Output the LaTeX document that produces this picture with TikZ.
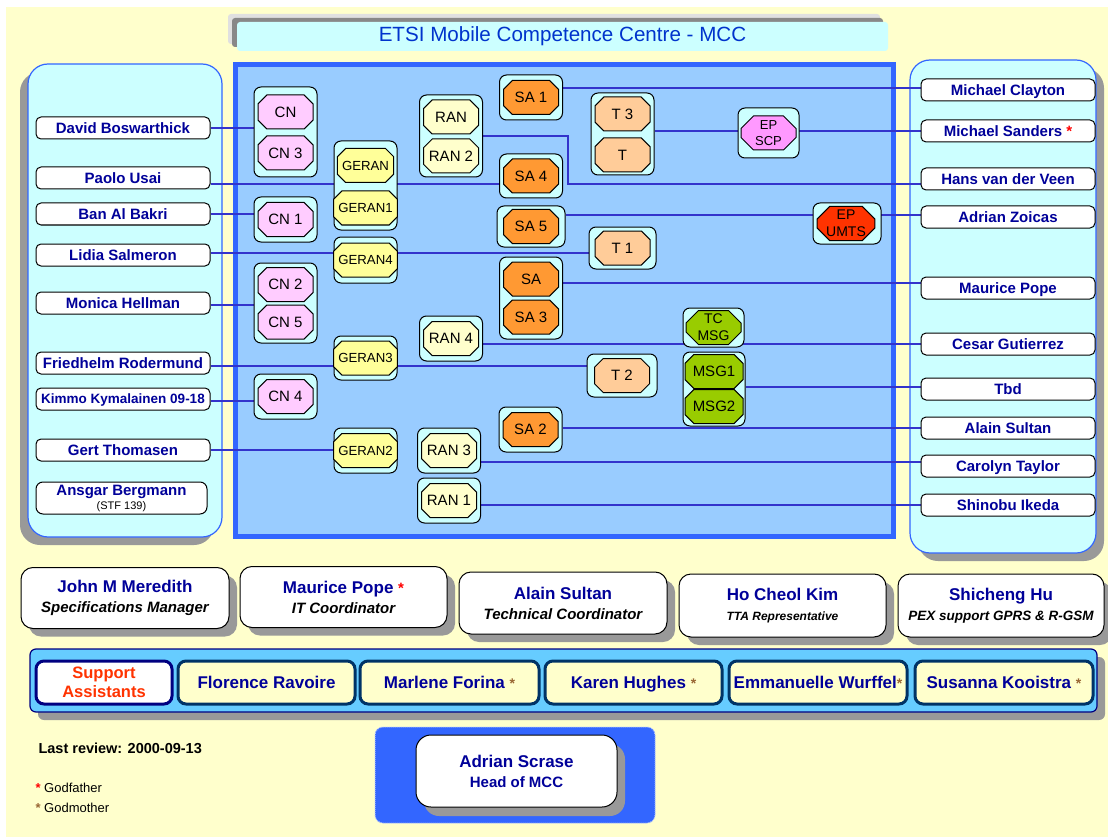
\documentclass[tikz,border=0pt]{standalone}
\usepackage{fontspec}
\setmainfont{Liberation Sans}
\usepackage{tikz}
\usetikzlibrary{calc,shapes.misc,shadows}
\usepackage{xcolor}
\pgfdeclarelayer{back}
\pgfdeclarelayer{links}
\pgfsetlayers{back,links,main}
\definecolor{paper}{HTML}{FFFFCC}
\definecolor{ice}{HTML}{CCFFFF}
\definecolor{royal}{HTML}{3366FF}
\definecolor{sky}{HTML}{99CCFF}
\definecolor{wire}{HTML}{3333CC}
\definecolor{namenavy}{HTML}{000099}
\definecolor{titleblue}{HTML}{0033CC}
\definecolor{shade}{HTML}{999999}
\definecolor{lightshade}{HTML}{E0E0E0}
\definecolor{darkshade}{HTML}{888888}
\definecolor{cnpink}{HTML}{FFCCFF}
\definecolor{geranyellow}{HTML}{FFFF99}
\definecolor{rancream}{HTML}{FFFFCC}
\definecolor{saorange}{HTML}{FF9933}
\definecolor{tpeach}{HTML}{FFCC99}
\definecolor{scpmagenta}{HTML}{FF99FF}
\definecolor{umtsred}{HTML}{FF3300}
\definecolor{msggreen}{HTML}{99CC00}
\definecolor{bandblue}{HTML}{66CCFF}
\definecolor{banddark}{HTML}{000080}
\definecolor{helperedge}{HTML}{003366}
\definecolor{helperred}{HTML}{FF3300}
\definecolor{godred}{HTML}{FF0000}
\definecolor{godbrown}{HTML}{996633}

\begin{document}
\begin{tikzpicture}[x=1pt, y=-1pt]
  \tikzstyle{name box}=[draw=black, line width=1pt, fill=white, rounded corners=5pt, minimum width=174pt, minimum height=22pt, inner sep=0pt, text height=11pt, text depth=0.5pt, text=namenavy, font=\bfseries\fontsize{15}{17}\selectfont]
  \tikzstyle{group box}=[draw=black, line width=1pt, fill=ice, rounded corners=7pt, minimum width=63pt, minimum height=45pt, inner sep=0pt]
  \tikzstyle{oct}=[chamfered rectangle, chamfered rectangle xsep=9pt, draw=black, line width=1pt, minimum width=55pt, minimum height=34pt, inner sep=0pt, font=\fontsize{15}{17}\selectfont]
  \tikzstyle{small oct}=[oct, font=\fontsize{13.2}{15}\selectfont]
  \tikzstyle{role box}=[draw=black, line width=1pt, fill=white, rounded corners=12pt, minimum width=207pt, minimum height=61pt, inner sep=0pt, align=center, font=\bfseries\fontsize{15}{20}\selectfont, drop shadow={shadow xshift=8pt, shadow yshift=-8pt, fill=shade, opacity=1}]
  \tikzstyle{helper box}=[draw=helperedge, line width=3pt, fill=paper, rounded corners=8pt, minimum width=177pt, minimum height=43pt, inner sep=0pt, text height=12.5pt, text depth=0.5pt, text=namenavy, font=\bfseries\fontsize{17}{19}\selectfont]
  \tikzstyle{link}=[draw=wire, line width=2.4pt]
  \tikzstyle{thin link}=[draw=wire, line width=1.5pt]
  \useasboundingbox (0,0) rectangle (1108,837);

  % backdrop and panels
  \begin{pgfonlayer}{back}
    \fill[white] (0,0) rectangle (1108,837);
    \fill[paper] (6,7) rectangle (1108,837);
    \fill[lightshade, rounded corners=3pt] (228,14) rectangle (880,44);
    \fill[darkshade, rounded corners=3pt] (232,18) rectangle (883,47);
    \draw[royal, line width=1.2pt, fill=ice, rounded corners=20pt, drop shadow={shadow xshift=-8pt, shadow yshift=-8pt, fill=shade, opacity=1}] (28,64) rectangle (222,537);
    \draw[royal, line width=1.2pt, fill=ice, rounded corners=20pt, drop shadow={shadow xshift=8pt, shadow yshift=-8pt, fill=shade, opacity=1}] (910,60) rectangle (1096,553);
    \draw[royal, line width=5pt, fill=sky] (235,65) rectangle (893,536);
    \draw[banddark, line width=1.2pt, fill=bandblue, rounded corners=6pt, drop shadow={shadow xshift=8pt, shadow yshift=-8pt, fill=shade, opacity=1}] (30,649) rectangle (1097,712);
    \draw[white!60!royal, densely dotted, line width=1pt, fill=royal, rounded corners=8pt] (375,727) rectangle (655,823);
  \end{pgfonlayer}

  \node[fill=ice, rounded corners=3pt, minimum width=651pt, minimum height=29pt, text=titleblue, font=\fontsize{20.6}{22}\selectfont] (title) at (562.5,36.5) {ETSI Mobile Competence Centre - MCC};

  % left column
  \node[name box] (david) at (123,128) {David Boswarthick};
  \node[name box] (paolo) at (123,178) {Paolo Usai};
  \node[name box] (ban) at (123,214) {Ban Al Bakri};
  \node[name box] (lidia) at (123,255) {Lidia Salmeron};
  \node[name box] (monica) at (123,303) {Monica Hellman};
  \node[name box] (friedhelm) at (123,363) {Friedhelm Rodermund};
  \node[name box, text height=10pt, font=\bfseries\fontsize{13.5}{15}\selectfont] (kimmo) at (123,399) {Kimmo Kymalainen 09-18};
  \node[name box] (gert) at (123,450) {Gert Thomasen};
  \node[name box, minimum width=171pt, minimum height=32pt, text height=, text depth=, align=center, rounded corners=7pt] (ansgar) at (121.5,498) {Ansgar Bergmann\\[-3pt]{\normalfont\fontsize{11}{12}\selectfont\color{black}(STF 139)}};

  % right column
  \node[name box] (clayton) at (1008,90) {Michael Clayton};
  \node[name box] (sanders) at (1008,131) {Michael Sanders {\color{godred}*}};
  \node[name box] (hans) at (1008,179) {Hans van der Veen};
  \node[name box] (zoicas) at (1008,217) {Adrian Zoicas};
  \node[name box] (pope) at (1008,288) {Maurice Pope};
  \node[name box] (cesar) at (1008,344) {Cesar Gutierrez};
  \node[name box] (tbd) at (1008,389) {Tbd};
  \node[name box] (sultan) at (1008,428) {Alain Sultan};
  \node[name box] (carolyn) at (1008,466) {Carolyn Taylor};
  \node[name box] (shinobu) at (1008,505) {Shinobu Ikeda};

  % core network
  \node[group box, minimum height=90pt] (gcn) at (285.5,132) {};
  \node[oct, fill=cnpink] (cn) at (285.5,112) {CN};
  \node[oct, fill=cnpink] (cn3) at (285.5,153) {CN 3};
  \node[group box] (gcn1) at (285.5,219.5) {};
  \node[oct, fill=cnpink] (cn1) at (285.5,219.5) {CN 1};
  \node[group box, minimum height=80pt] (gcn25) at (285.5,303) {};
  \node[oct, fill=cnpink] (cn2) at (285.5,284.5) {CN 2};
  \node[oct, fill=cnpink] (cn5) at (285.5,322) {CN 5};
  \node[group box] (gcn4) at (285.5,396.5) {};
  \node[oct, fill=cnpink] (cn4) at (285.5,396.5) {CN 4};

  % geran
  \node[group box, minimum height=89pt] (ggeran) at (365.5,185.5) {};
  \node[small oct, fill=geranyellow] (geran) at (365.5,165.5) {GERAN};
  \node[small oct, fill=geranyellow] (geran1) at (365.5,208) {GERAN1};
  \node[group box, minimum height=46pt] (ggeran4) at (365.5,260) {};
  \node[small oct, fill=geranyellow] (geran4) at (365.5,260) {GERAN4};
  \node[group box, minimum height=44pt] (ggeran3) at (365.5,358) {};
  \node[small oct, fill=geranyellow] (geran3) at (365.5,358) {GERAN3};
  \node[group box] (ggeran2) at (365.5,450.5) {};
  \node[small oct, fill=geranyellow] (geran2) at (365.5,450.5) {GERAN2};

  % ran
  \node[group box, minimum height=82pt] (gran) at (451,136) {};
  \node[oct, fill=rancream] (ran) at (451,117) {RAN};
  \node[oct, fill=rancream] (ran2) at (451,156) {RAN 2};
  \node[group box] (gran4) at (451,338.5) {};
  \node[oct, fill=rancream] (ran4) at (451,338.5) {RAN 4};
  \node[group box] (gran3) at (449,450.5) {};
  \node[oct, fill=rancream] (ran3) at (449,450.5) {RAN 3};
  \node[group box] (gran1) at (449,500.5) {};
  \node[oct, fill=rancream] (ran1) at (449,500.5) {RAN 1};

  % sa
  \node[group box] (gsa1) at (531,97.5) {};
  \node[oct, fill=saorange] (sa1) at (531,97.5) {SA 1};
  \node[group box, minimum height=44pt] (gsa4) at (531,176) {};
  \node[oct, fill=saorange] (sa4) at (531,176) {SA 4};
  \node[group box, minimum width=68pt, minimum height=41pt] (gsa5) at (531,226.5) {};
  \node[oct, fill=saorange] (sa5) at (531,226.5) {SA 5};
  \node[group box, minimum height=82pt] (gsa) at (531,298) {};
  \node[oct, fill=saorange] (sa) at (531,279) {SA};
  \node[oct, fill=saorange] (sa3) at (531,317) {SA 3};
  \node[group box] (gsa2) at (530.5,429.5) {};
  \node[oct, fill=saorange] (sa2) at (530.5,429.5) {SA 2};

  % terminals
  \node[group box, minimum height=82pt] (gt3) at (622.5,134) {};
  \node[oct, fill=tpeach] (t3) at (622.5,114) {T 3};
  \node[oct, fill=tpeach] (t) at (622.5,155) {T};
  \node[group box, minimum width=67pt, minimum height=42pt] (gt1) at (622.5,248) {};
  \node[oct, fill=tpeach] (t1) at (622.5,248) {T 1};
  \node[group box, minimum width=70pt, minimum height=43pt] (gt2) at (622,375.5) {};
  \node[oct, fill=tpeach] (t2) at (622,375.5) {T 2};

  % projects and msg
  \node[group box, minimum width=61pt, minimum height=50pt] (gscp) at (768.5,133) {};
  \node[oct, fill=scpmagenta, align=center, font=\fontsize{13}{16}\selectfont] (epscp) at (768.5,133) {EP\\SCP};
  \node[group box, minimum width=68pt, minimum height=41pt] (gumts) at (847,223.5) {};
  \node[oct, fill=umtsred, align=center, font=\fontsize{14}{17}\selectfont] (epumts) at (846,223.5) {EP\\UMTS};
  \node[group box, minimum width=61pt, minimum height=39pt] (gtcmsg) at (713.5,327.5) {};
  \node[oct, fill=msggreen, align=center, font=\fontsize{14}{17}\selectfont] (tcmsg) at (713.5,327.5) {TC\\MSG};
  \node[group box, minimum width=62pt, minimum height=74pt] (gmsg) at (714,389) {};
  \node[oct, fill=msggreen, minimum width=58pt] (msg1) at (714,371.5) {MSG1};
  \node[oct, fill=msggreen, minimum width=58pt] (msg2) at (714,406.5) {MSG2};

  % coordinators
  \node[role box, minimum width=208pt] (john) at (125,598) {{\color{namenavy}\fontsize{17}{19}\selectfont John M Meredith}\\\itshape Specifications Manager};
  \node[role box] (itpope) at (343.5,597) {{\color{namenavy}\fontsize{17}{19}\selectfont Maurice Pope {\color{godred}\fontsize{15}{15}\selectfont*}}\\\itshape IT Coordinator};
  \node[role box, minimum width=208pt, minimum height=62pt] (techsultan) at (563,603) {{\color{namenavy}\fontsize{17}{19}\selectfont Alain Sultan}\\\itshape Technical Coordinator};
  \node[role box, minimum height=63pt] (hokim) at (782.5,605.5) {{\color{namenavy}\fontsize{17}{19}\selectfont Ho Cheol Kim}\\\itshape\fontsize{12}{14}\selectfont TTA Representative};
  \node[role box, minimum width=206pt, minimum height=63pt] (shicheng) at (1001,605.5) {{\color{namenavy}\fontsize{17}{19}\selectfont Shicheng Hu}\\\itshape\fontsize{13.5}{15}\selectfont PEX support GPRS \& R-GSM};

  % support assistants
  \node[helper box, fill=white, draw=banddark, text=helperred, minimum width=136pt, text height=, text depth=, align=center, font=\bfseries\fontsize{16.5}{19}\selectfont] (support) at (104,682.5) {Support\\Assistants};
  \node[helper box] (florence) at (266.5,682.5) {Florence Ravoire};
  \node[helper box, minimum width=179pt] (marlene) at (449.5,682.5) {Marlene Forina {\color{godbrown}\fontsize{14}{14}\selectfont*}};
  \node[helper box] (karen) at (633.5,682.5) {Karen Hughes {\color{godbrown}\fontsize{14}{14}\selectfont*}};
  \node[helper box, minimum width=178pt] (emmanuelle) at (818,682.5) {Emmanuelle Wurffel{\color{godbrown}\fontsize{14}{14}\selectfont*}};
  \node[helper box, minimum width=178pt] (susanna) at (1004,682.5) {Susanna Kooistra {\color{godbrown}\fontsize{14}{14}\selectfont*}};

  % head and legend
  \node[draw=black, line width=1pt, fill=white, rounded corners=15pt, minimum width=201pt, minimum height=72pt, align=center, text=namenavy, font=\bfseries\fontsize{15}{20}\selectfont, drop shadow={shadow xshift=8pt, shadow yshift=-9pt, fill=shade, opacity=1}] (head) at (516.5,771) {{\fontsize{17}{19}\selectfont Adrian Scrase}\\Head of MCC};
  \node[anchor=west, font=\bfseries\fontsize{14.5}{16}\selectfont] (review) at (35,748) {Last review: 2000-09-13};
  \node[anchor=west, font=\fontsize{13}{15}\selectfont] (godfather) at (32,788) {{\color{godred}\bfseries *} Godfather};
  \node[anchor=west, font=\fontsize{13}{15}\selectfont] (godmother) at (32,808) {{\color{godbrown}\bfseries *} Godmother};

  % connectors
  \begin{pgfonlayer}{links}
    \draw[thin link] (david.east) -- (david.east -| gcn.west);
    \draw[link] ([yshift=-6pt]paolo.east) coordinate (paololine) -- (paololine -| gsa4.west);
    \draw[thin link] (ban.east) -- (ban.east -| gcn1.west);
    \draw[thin link] ([yshift=2pt]lidia.east) coordinate (lidialine) -- (lidialine -| gt1.west);
    \draw[thin link] ([yshift=-2pt]monica.east) coordinate (monicaline) -- (monicaline -| gcn25.west);
    \draw[link] ([yshift=-3pt]friedhelm.east) coordinate (friedline) -- (friedline -| gt2.west);
    \draw[thin link] ([yshift=-2pt]kimmo.east) coordinate (kimmoline) -- (kimmoline -| gcn4.west);
    \draw[link] (gert.east) -- (gert.east -| ggeran2.west);
    \draw[link] ([yshift=2pt]clayton.west) coordinate (claytonline) -- (claytonline -| gsa1.east);
    \draw[link] (sanders.west) -- (sanders.west -| gt3.east);
    \draw[link] (gran.east) -- ++(85,0) |- ([yshift=-5pt]hans.west);
    \draw[link] ([yshift=2pt]zoicas.west) coordinate (zoicasline) -- (zoicasline -| gsa5.east);
    \draw[link] ([yshift=5pt]pope.west) coordinate (popeline) -- (popeline -| gsa.east);
    \draw[link] (cesar.west) -- (cesar.west -| gran4.east);
    \draw[link] ([yshift=2pt]tbd.west) coordinate (tbdline) -- (tbdline -| gmsg.east);
    \draw[thin link] (sultan.west) -- (sultan.west -| gsa2.east);
    \draw[link] ([yshift=4pt]carolyn.west) coordinate (carolynline) -- (carolynline -| gran3.east);
    \draw[thin link] (shinobu.west) -- (shinobu.west -| gran1.east);
  \end{pgfonlayer}
\end{tikzpicture}
\end{document}
